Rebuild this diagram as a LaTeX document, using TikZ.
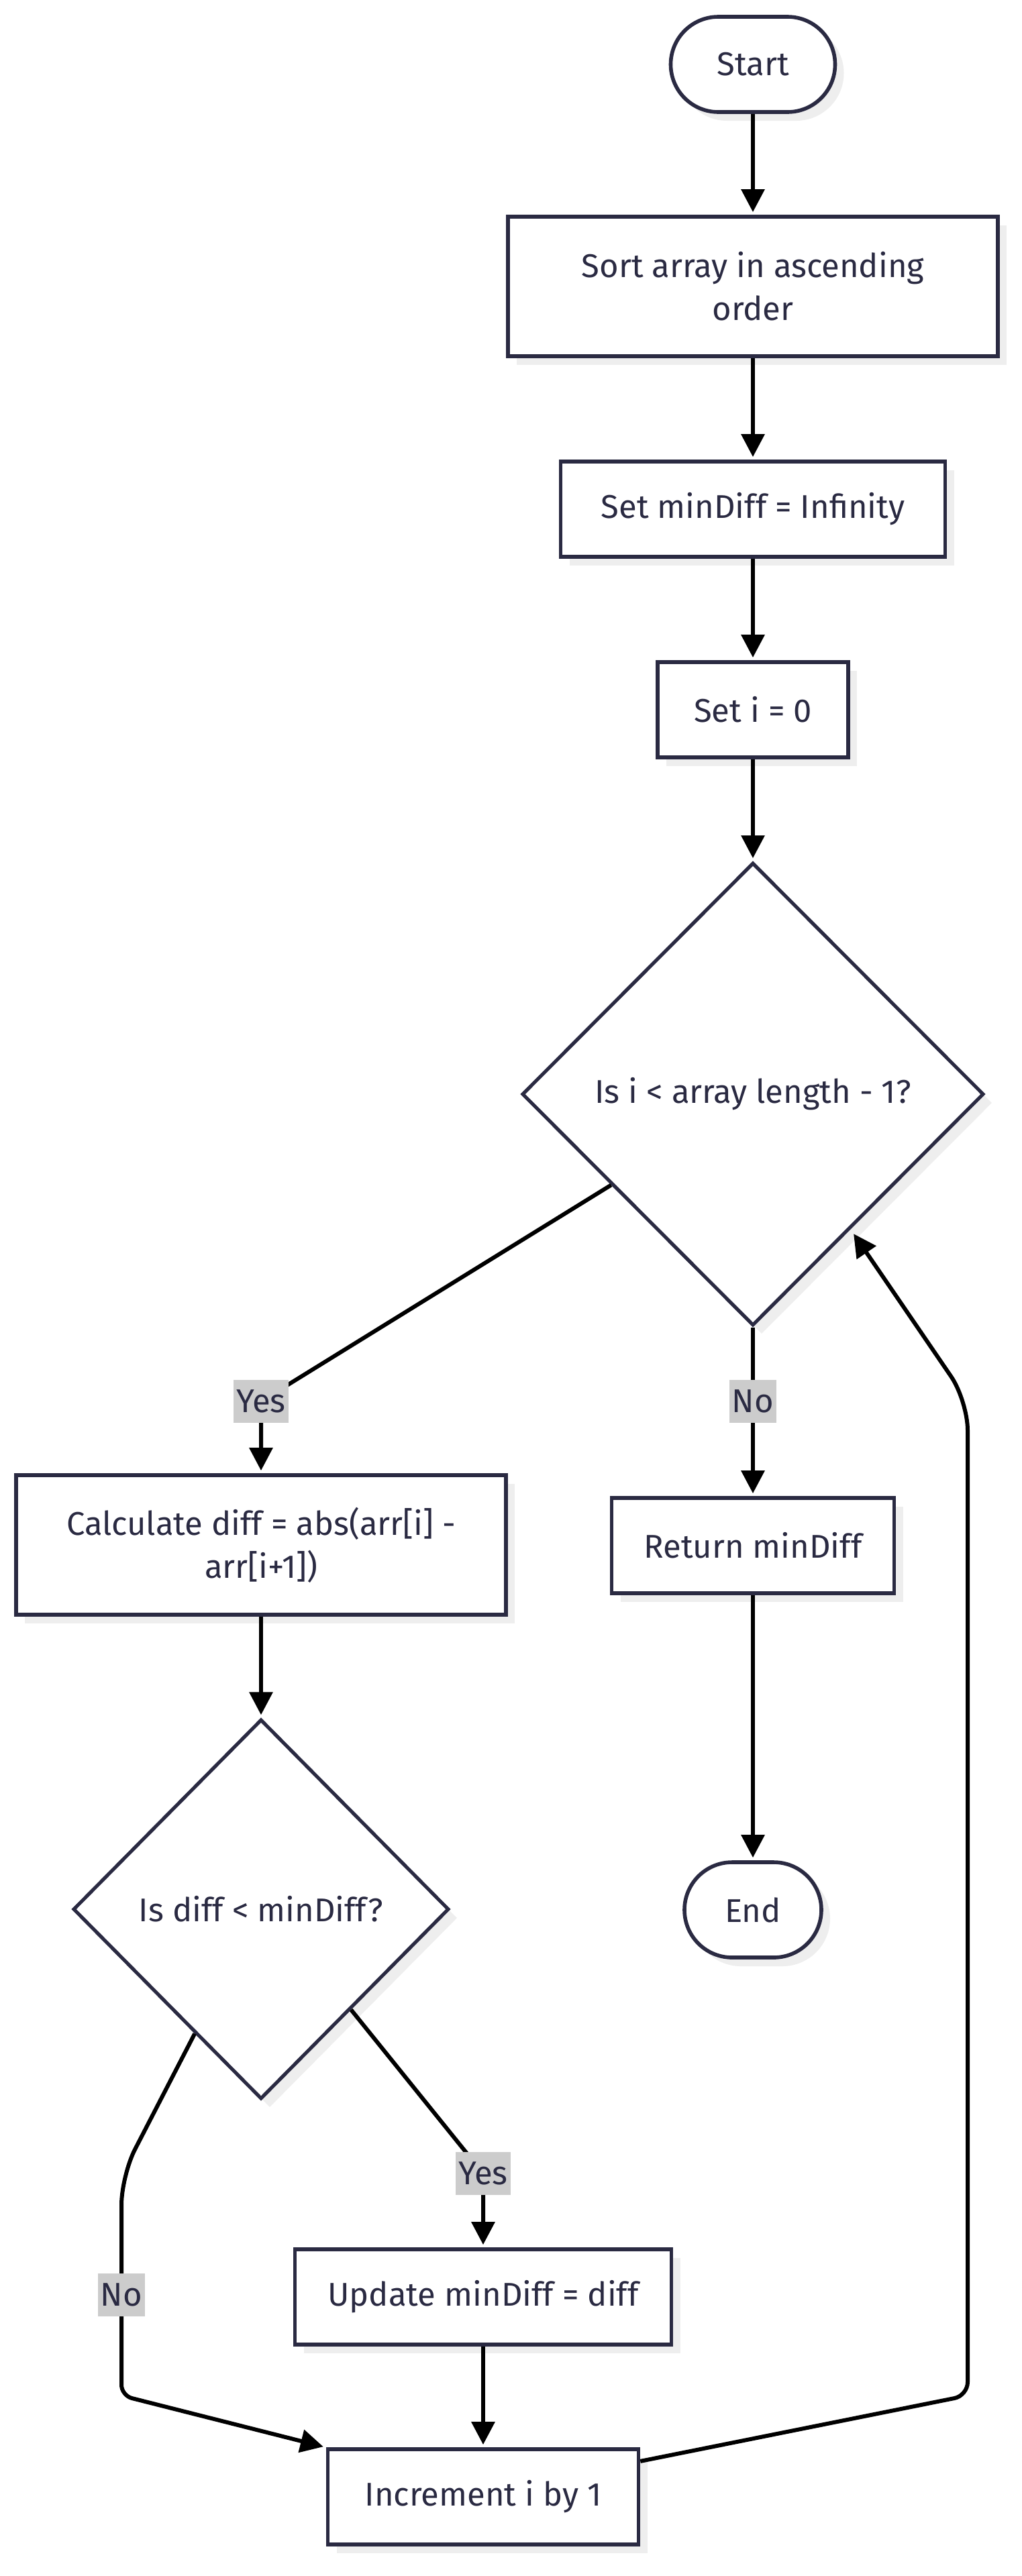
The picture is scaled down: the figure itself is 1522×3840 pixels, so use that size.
\documentclass[tikz,border=0pt]{standalone}
\usepackage{fontspec}
\setmainfont{Fira Sans}
\usetikzlibrary{shapes.geometric,arrows.meta,calc,shadows}
\definecolor{ink}{HTML}{2A2A42}
\definecolor{shade}{HTML}{EEEEEE}
\definecolor{lbl}{HTML}{CCCCCC}
\begin{document}
\begin{tikzpicture}[x=0.5pt,y=0.5pt,
  font=\fontsize{24.5pt}{32pt}\selectfont,
  shd/.style={drop shadow={shadow xshift=6.5pt,shadow yshift=-6.5pt,fill=shade,opacity=1}},
  box/.style={draw=ink,line width=2.8pt,fill=white,text=ink,minimum height=71pt,inner sep=0pt,align=center,shd},
  term/.style={box,rounded corners=35.5pt},
  dec/.style={diamond,draw=ink,line width=2.6pt,fill=white,text=ink,inner sep=0pt,align=center,shd},
  edge/.style={line width=3pt,black,-{Triangle[length=17pt,width=17pt]},shorten >=2pt},
  lab/.style={fill=lbl,text=ink,inner xsep=2pt,inner ysep=0pt,minimum height=32pt}]
\useasboundingbox[fill=white] (0,0) rectangle (1522,-3840);

\node[term,minimum width=122.5pt] (start) at (1122,-96) {Start};
\node[box,minimum width=365pt,minimum height=104pt] (sort) at (1122,-427) {Sort array in ascending\\order};
\node[box,minimum width=286.5pt] (setmin) at (1122,-759) {Set minDiff = Infinity};
\node[box,minimum width=142pt] (seti) at (1122,-1058) {Set i = 0};
\node[dec,minimum width=344pt,minimum height=345pt] (d1) at (1122,-1631) {Is i < array length - 1?};
\node[box,minimum width=365pt,minimum height=104pt] (calc) at (389,-2303) {Calculate diff = abs(arr[i] -\\arr[i+1])};
\node[box,minimum width=210.5pt] (ret) at (1122,-2304) {Return minDiff};
\node[dec,minimum width=280pt,minimum height=283pt] (d2) at (389,-2846) {Is diff < minDiff?};
\node[term,minimum width=102pt] (end) at (1122,-2847) {End};
\node[box,minimum width=280.5pt] (upd) at (720,-3424) {Update minDiff = diff};
\node[box,minimum width=231.5pt] (inc) at (720,-3722) {Increment i by 1};

\draw[edge] (start) -- (sort);
\draw[edge] (sort) -- (setmin);
\draw[edge] (setmin) -- (seti);
\draw[edge] (seti) -- (d1);

\coordinate (d1yes) at ($(d1.west)!0.39!(d1.south)$);
\coordinate (yesa) at (389,-2089);
\draw[edge] (d1yes) -- (yesa) -- (calc.north);
\node[lab] (ylab1) at (yesa) {Yes};

\coordinate (noa) at (1122,-2089);
\draw[edge] (d1.south) -- (noa) -- (ret.north);
\node[lab] (nlab1) at (noa) {No};

\draw[edge] (ret) -- (end);
\draw[edge] (calc) -- (d2);

\coordinate (d2yes) at ($(d2.east)!0.525!(d2.south)$);
\coordinate (yesb) at (720,-3240);
\draw[edge] (d2yes) -- (yesb) -- (upd.north);
\node[lab] (ylab2) at (yesb) {Yes};

\coordinate (d2no) at ($(d2.west)!0.65!(d2.south)$);
\coordinate (nb1) at (181,-3243);
\coordinate (nob) at (181,-3421);
\coordinate (nb2) at (181,-3571);
\draw[edge,rounded corners=22pt] (d2no) -- (nb1) -- (nob) [rounded corners=8pt] -- (nb2) -- (inc.north west);
\node[lab] (nlab2) at (nob) {No};

\draw[edge] (upd) -- (inc);

\coordinate (incr) at ($(inc.north east)!0.14!(inc.south east)$);
\coordinate (lp1) at (1442,-3571);
\coordinate (lp2) at (1442,-2088);
\coordinate (d1back) at ($(d1.east)!0.58!(d1.south)$);
\draw[edge,rounded corners=10pt,shorten >=4pt] (incr) -- (lp1) [rounded corners=22pt] -- (lp2) -- (d1back);
\end{tikzpicture}
\end{document}
